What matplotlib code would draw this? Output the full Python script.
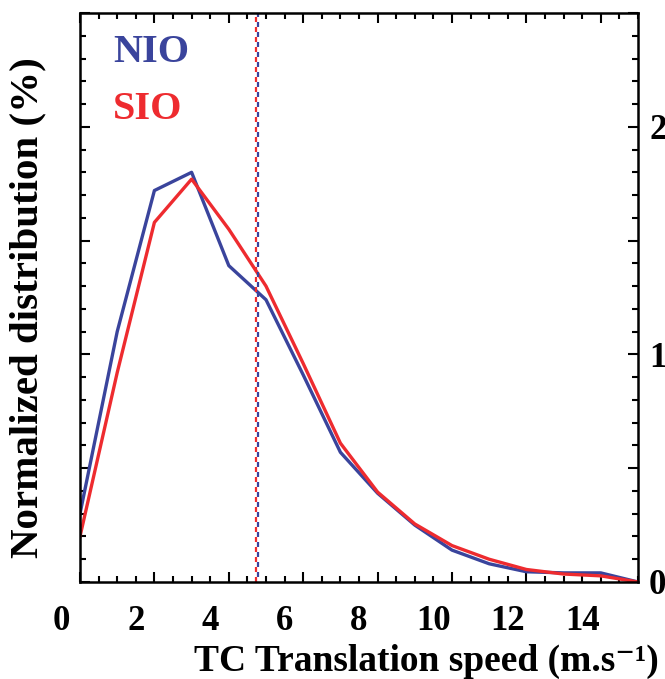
import numpy as np
import matplotlib.pyplot as plt
from matplotlib.ticker import FixedLocator, MultipleLocator, FixedFormatter, NullFormatter
from matplotlib.transforms import blended_transform_factory, ScaledTranslation

# Bin centres of the translation speed histogram (m/s)
speed = np.arange(16) + 0.5

# Normalized distribution (%)
nio = [3.0, 11.0, 17.2, 18.0, 13.9, 12.4, 9.1, 5.7, 3.9, 2.5, 1.4, 0.8, 0.45, 0.4, 0.4, 0.0]
sio = [2.0, 9.2, 15.8, 17.7, 15.5, 13.0, 9.6, 6.1, 3.95, 2.55, 1.6, 1.0, 0.55, 0.35, 0.27, 0.0]

# Mean speeds (dashed lines)
nio_mean = 5.28
sio_mean = 5.22

xtick_vals = [0, 2, 4, 6, 8, 10, 12, 14]
ytick_labels = ['0', '', '10', '', '20', '']

blue = '#3a449c'
red = '#ee2b2f'

plt.rcParams['font.family'] = ['Liberation Serif', 'DejaVu Serif']
plt.rcParams['font.weight'] = 'bold'
plt.rcParams['lines.scale_dashes'] = False

fig = plt.figure(figsize=(6.65, 6.79), dpi=100)
ax = fig.add_axes([80 / 665, 1 - 582 / 679, 558 / 665, 569 / 679])

ax.plot(speed, nio, color=blue, lw=2.4)
ax.plot(speed, sio, color=red, lw=2.4)
ax.axvline(sio_mean, color=red, lw=1.6, linestyle=(0, (3.6, 3.6)))
ax.axvline(nio_mean, color=blue, lw=1.6, linestyle=(3.6, (3.6, 3.6)))

ax.set_xlim(0.5, 15.5)
ax.set_ylim(0, 25)

# x tick marks sit on bin edges; the numbers are drawn at the speed values
ax.xaxis.set_major_locator(FixedLocator(np.arange(0.5, 15.5, 2)))
ax.xaxis.set_major_formatter(NullFormatter())
ax.xaxis.set_minor_locator(MultipleLocator(0.5))
trans = blended_transform_factory(ax.transData, ax.transAxes)
trans = trans + ScaledTranslation(0, -0.23, fig.dpi_scale_trans)
for v in xtick_vals:
    ax.text(v, 0, str(v), transform=trans, ha='center', va='top',
            fontsize=25, fontweight='bold', clip_on=False)

ax.yaxis.set_major_locator(FixedLocator(np.arange(0, 26, 5)))
ax.yaxis.set_major_formatter(FixedFormatter(ytick_labels))
ax.yaxis.set_minor_locator(MultipleLocator(1))

ax.tick_params(which='both', direction='in', top=True, right=True,
               labelleft=False, labelright=True, width=1.5)
ax.tick_params(which='major', length=7.5)
ax.tick_params(which='minor', length=4.3)
ax.tick_params(axis='y', which='major', labelsize=25, pad=8)
for lab in ax.get_yticklabels():
    lab.set_horizontalalignment('left')

for sp in ax.spines.values():
    sp.set_linewidth(1.8)

ax.set_xlabel('TC Translation speed (m.s\u207b\u00b9)', fontsize=27, fontweight='bold')
ax.xaxis.set_label_coords(0.62, -0.108)
ax.set_ylabel('Normalized distribution (%)', fontsize=29.5, fontweight='bold')
ax.yaxis.set_label_coords(-0.06, 0.483)

ax.text(0.059, 0.93, 'NIO', color=blue, fontsize=29, fontweight='bold',
        transform=ax.transAxes, ha='left', va='center')
ax.text(0.059, 0.83, 'SIO', color=red, fontsize=29, fontweight='bold',
        transform=ax.transAxes, ha='left', va='center')

fig.savefig('out.png', dpi=100)
